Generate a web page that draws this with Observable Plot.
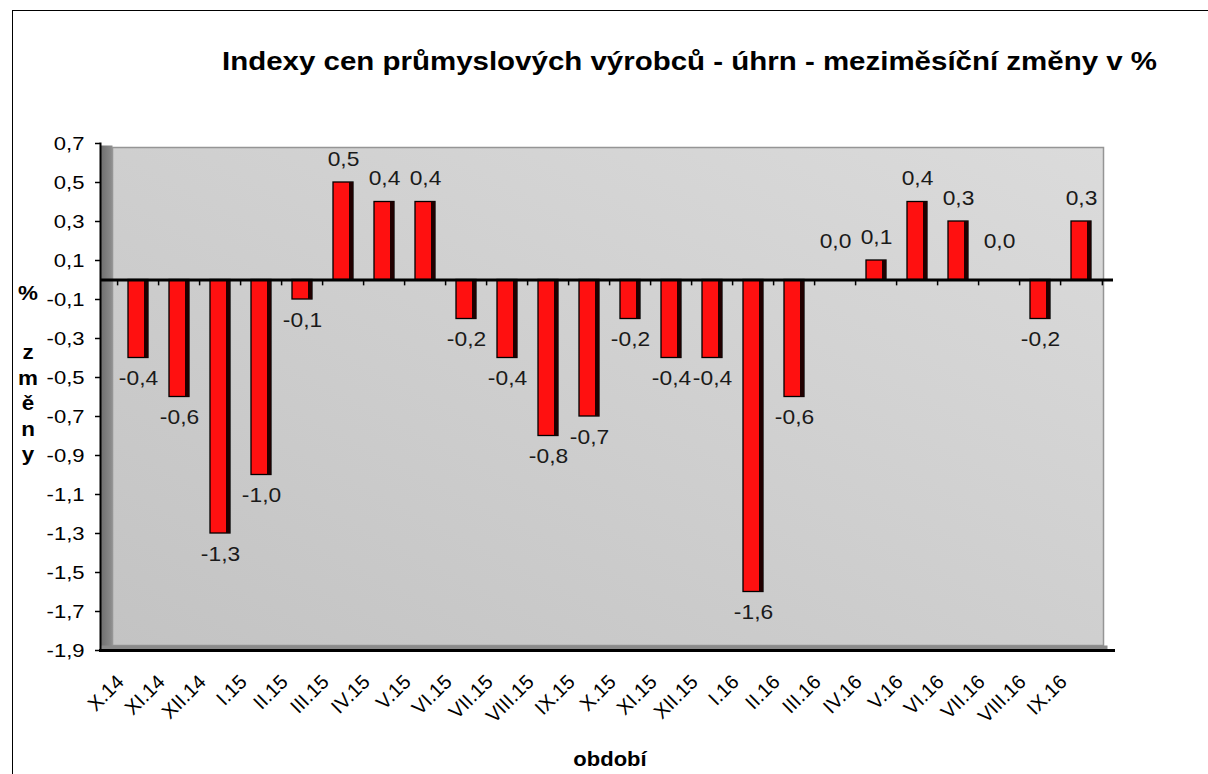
<!DOCTYPE html>
<html>
<head>
<meta charset="utf-8">
<script src="https://cdn.jsdelivr.net/npm/d3@7"></script>
<script src="https://cdn.jsdelivr.net/npm/@observablehq/plot@0.6"></script>
<style>
  body { margin: 0; background: #fff; font-family: "Liberation Sans", Arial, sans-serif; }
  #wrap { position: relative; width: 1208px; height: 774px; overflow: hidden; background: #fff; }
  #border { position: absolute; left: 12px; top: 10px; width: 1400px; height: 1000px;
            border-left: 1.5px solid #000; border-top: 1.5px solid #000; }
  #chart { position: absolute; left: 0; top: 0; }
  #title { position: absolute; left: 222px; top: 46px; font-weight: bold; font-size: 26px;
           white-space: nowrap; transform-origin: 0 0; color: #000; }
  #ypct { position: absolute; left: 12px; top: 280px; width: 32px; text-align: center;
          font-weight: bold; font-size: 20px; line-height: 26px; color: #000; transform: scaleX(1.12); }
  #ylab { position: absolute; left: 12px; top: 340px; width: 32px; text-align: center;
          font-weight: bold; font-size: 20px; line-height: 25.5px; color: #000; transform: scaleX(1.12); }
  #xlab { position: absolute; left: 530px; width: 160px; text-align: center; top: 748px;
          font-weight: bold; font-size: 20px; color: #000; transform: scaleX(1.1); }
</style>
</head>
<body>
<svg width="0" height="0" style="position:absolute">
  <defs>
    <linearGradient id="wallGrad" x1="0" y1="1" x2="1" y2="0">
      <stop offset="0" stop-color="#c3c3c3"/>
      <stop offset="1" stop-color="#dbdbdb"/>
    </linearGradient>
    <linearGradient id="sideGrad" x1="0" y1="0" x2="1" y2="0">
      <stop offset="0" stop-color="#6e6e6e"/>
      <stop offset="1" stop-color="#8e8e8e"/>
    </linearGradient>
  </defs>
</svg>
<div id="wrap">
  <div id="border"></div>
  <div id="chart"></div>
  <div id="title">Indexy cen průmyslových výrobců - úhrn - meziměsíční změny v %</div>
  <div id="ypct">%</div>
  <div id="ylab">z<br>m<br>ě<br>n<br>y</div>
  <div id="xlab">období</div>
</div>
<script>
const months = ["X.14","XI.14","XII.14","I.15","II.15","III.15","IV.15","V.15","VI.15","VII.15","VIII.15","IX.15",
                "X.15","XI.15","XII.15","I.16","II.16","III.16","IV.16","V.16","VI.16","VII.16","VIII.16","IX.16"];
const values = [-0.4,-0.6,-1.3,-1.0,-0.1,0.5,0.4,0.4,-0.2,-0.4,-0.8,-0.7,
                -0.2,-0.4,-0.4,-1.6,-0.6,0.0,0.1,0.4,0.3,0.0,-0.2,0.3];
const yTicks = [0.7,0.5,0.3,0.1,-0.1,-0.3,-0.5,-0.7,-0.9,-1.1,-1.3,-1.5,-1.7,-1.9];

const data = months.map((m, i) => ({m, v: values[i]}));
const fmt = v => v.toFixed(1).replace(".", ",");
const last = [months[months.length - 1]];

const chart = Plot.plot({
  width: 1208,
  height: 774,
  marginLeft: 100,
  marginRight: 95,
  marginTop: 143,
  marginBottom: 124,
  style: { fontFamily: "'Liberation Sans', Arial, sans-serif", fontSize: "19px", color: "#000", background: "transparent", overflow: "visible" },
  x: { domain: months, range: [107, 1111], paddingInner: 0.52, paddingOuter: 0.26, align: 0.5, label: null },
  y: { domain: [-1.9, 0.7], label: null },
  marks: [
    // side wall, back wall, floor
    Plot.frame({ fill: "url(#sideGrad)", insetRight: 1001, insetTop: 2 }),
    Plot.frame({ fill: "url(#wallGrad)", stroke: "#959595", strokeWidth: 1.5, insetLeft: 12, insetRight: 10, insetTop: 4, insetBottom: 5 }),
    Plot.frame({ fill: "#8a8a8a", insetTop: 502, insetRight: 6 }),
    Plot.frame({ anchor: "bottom", stroke: "#000", strokeWidth: 3 }),
    Plot.frame({ anchor: "left", stroke: "#000", strokeWidth: 2 }),
    // bars
    Plot.barY(data, { x: "m", y: "v", fill: "#ff1010", stroke: "#000", strokeWidth: 1.3 }),
    Plot.barY(data, { x: "m", y: "v", fill: "#200000", insetLeft: 16 }),
    // zero line + category ticks
    Plot.ruleY([0], { stroke: "#000", strokeWidth: 3 }),
    Plot.ruleX(data, { x: "m", y1: 0, y2: -0.03, dx: -20.9, stroke: "#000", strokeWidth: 1.5 }),
    Plot.ruleX(last, { x: d => d, y1: 0, y2: -0.03, dx: 20.9, stroke: "#000", strokeWidth: 1.5 }),
    // value labels
    Plot.text(data.filter(d => d.v > 0), { x: "m", y: "v", text: d => fmt(d.v), dy: -23, fontSize: 20, fill: "#1a1a1a" }),
    Plot.text(data.filter(d => d.v === 0), { x: "m", y: "v", text: d => fmt(d.v), dy: -38, fontSize: 20, fill: "#1a1a1a" }),
    Plot.text(data.filter(d => d.v < 0), { x: "m", y: "v", text: d => fmt(d.v), dy: 21, fontSize: 20, fill: "#1a1a1a" }),
    // axes
    Plot.axisY({ ticks: yTicks, tickFormat: fmt, tickSize: 5, tickPadding: 11, stroke: "#000", strokeWidth: 1.5, fontSize: 19, fill: "#000" }),
    Plot.axisX({ anchor: "bottom", tickSize: 0, tickPadding: 28, dx: -18, tickRotate: -45, fontSize: 20, fill: "#000" })
  ]
});
document.getElementById("chart").appendChild(chart);

// widen the (non-rotated) label glyphs a little, around each text's own anchor
function widen(selector, s) {
  d3.select(chart).selectAll(selector).each(function () {
    const el = d3.select(this);
    const x = +(el.attr("x") || 0);
    const tr = el.attr("transform") || "";
    el.attr("transform", `${tr} translate(${x},0) scale(${s},1) translate(${-x},0)`);
  });
}
widen('g[aria-label="y-axis tick label"] text', 1.16);
widen('g[aria-label="text"] text', 1.14);

// fit title to the reference width
const t = document.getElementById("title");
const w = t.getBoundingClientRect().width;
t.style.transform = `scaleX(${935 / w})`;
</script>
</body>
</html>
